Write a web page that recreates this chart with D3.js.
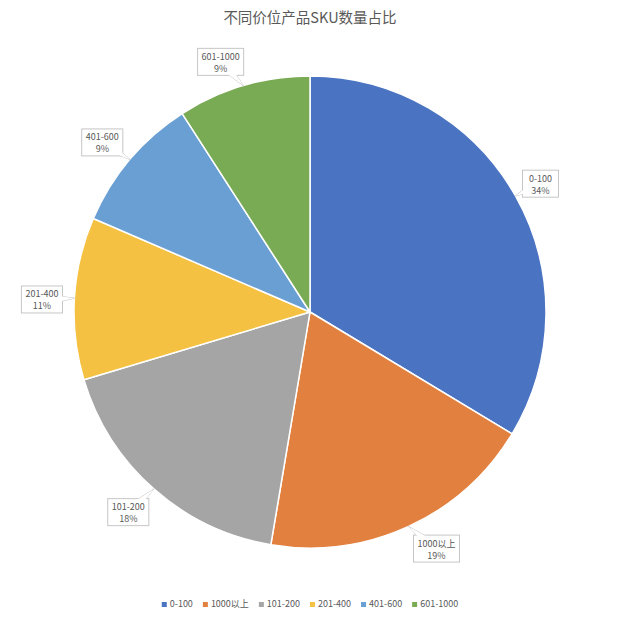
<!DOCTYPE html>
<html><head><meta charset="utf-8">
<script src="https://cdn.jsdelivr.net/npm/d3@7"></script>
<style>html,body{margin:0;padding:0;background:#fff;}svg{display:block;}</style>
</head><body>
<svg id="chart" width="620" height="621"></svg>
<script>
const title = "不同价位产品SKU数量占比";
const categories = ["0-100", "1000以上", "101-200", "201-400", "401-600", "601-1000"];
const values = [33.6, 19.0, 17.7, 11.1, 9.4, 9.1];
const percentLabels = ["34%", "19%", "18%", "11%", "9%", "9%"];
const colors = ["#4a73c2", "#e2813f", "#a5a5a5", "#f5c143", "#6a9fd4", "#79ab54"];
// layout nudges for the callout boxes (pixels)
const calloutNudge = [[-2, 3], [15, -6], [-5, 0], [-1.5, 3], [-4, 3], [-14, 6]];

const W = 620, H = 621;
const cx = 310, cy = 312, R = 236;
const font = "'Noto Sans CJK SC', 'Noto Sans', sans-serif";
const textColor = "#595959";

const svg = d3.select("#chart");
svg.append("rect").attr("width", W).attr("height", H).attr("fill", "#fff");

svg.append("text").attr("x", cx).attr("y", 23).attr("text-anchor", "middle")
  .attr("font-family", font).attr("font-size", 14.5).attr("fill", textColor).text(title);

const data = categories.map((c, i) => ({cat: c, value: values[i], pct: percentLabels[i], color: colors[i]}));
const pie = d3.pie().value(d => d.value).sort(null);
const arcs = pie(data);
const arc = d3.arc().innerRadius(0).outerRadius(R);

const g = svg.append("g").attr("transform", `translate(${cx},${cy})`);
g.selectAll("path.slice").data(arcs).join("path").attr("class", "slice")
  .attr("d", arc).attr("fill", d => d.data.color)
  .attr("stroke", "#fff").attr("stroke-width", 1.5).attr("stroke-linejoin", "round");

// callouts
const lg = g.append("g");
arcs.forEach((a, i) => {
  const mid = (a.startAngle + a.endAngle) / 2;
  const tip = [R * Math.sin(mid), -R * Math.cos(mid)];
  const Rb = 267;
  const bc = [Rb * Math.sin(mid) + calloutNudge[i][0], -Rb * Math.cos(mid) + calloutNudge[i][1]];
  const grp = lg.append("g");
  const t = grp.append("text").attr("font-family", font).attr("font-size", 9).attr("fill", textColor)
    .attr("text-anchor", "middle");
  t.append("tspan").attr("x", bc[0]).attr("y", bc[1] - 2).text(a.data.cat);
  t.append("tspan").attr("x", bc[0]).attr("y", bc[1] + 10).text(a.data.pct);
  const bb = t.node().getBBox();
  const bw = Math.max(bb.width + 8, 36), bh = 27;
  const bx = bc[0] - bw / 2, by = bc[1] - bh / 2;
  const dx = tip[0] - bc[0], dy = tip[1] - bc[1];
  const L = Math.hypot(dx, dy);
  const nx = -dy / L, ny = dx / L;
  const bw2 = 5;
  const b1 = [bc[0] + nx * bw2 + dx / L * 4, bc[1] + ny * bw2 + dy / L * 4];
  const b2 = [bc[0] - nx * bw2 + dx / L * 4, bc[1] - ny * bw2 + dy / L * 4];
  const tri = d3.line()([b1, tip, b2]) + "Z";
  grp.insert("path", "text").attr("d", tri).attr("fill", "#fff").attr("stroke", "#c6c6c6").attr("stroke-width", 1);
  grp.insert("rect", "text").attr("x", bx).attr("y", by).attr("width", bw).attr("height", bh)
    .attr("fill", "#fff").attr("stroke", "#c6c6c6").attr("stroke-width", 1);
  grp.insert("path", "text").attr("d", tri).attr("fill", "#fff").attr("stroke", "none");
});

// legend
const leg = svg.append("g");
let x = 0;
const gap = 10;
data.forEach(d => {
  const it = leg.append("g");
  it.append("rect").attr("x", x).attr("y", -5).attr("width", 5).attr("height", 5).attr("fill", d.color);
  const tx = it.append("text").attr("x", x + 8).attr("y", 0).attr("font-family", font)
    .attr("font-size", 9).attr("fill", textColor).text(d.cat);
  x += 8 + tx.node().getComputedTextLength() + gap;
});
const total = x - gap;
leg.attr("transform", `translate(${cx - total / 2},${607})`);
</script>
</body></html>
